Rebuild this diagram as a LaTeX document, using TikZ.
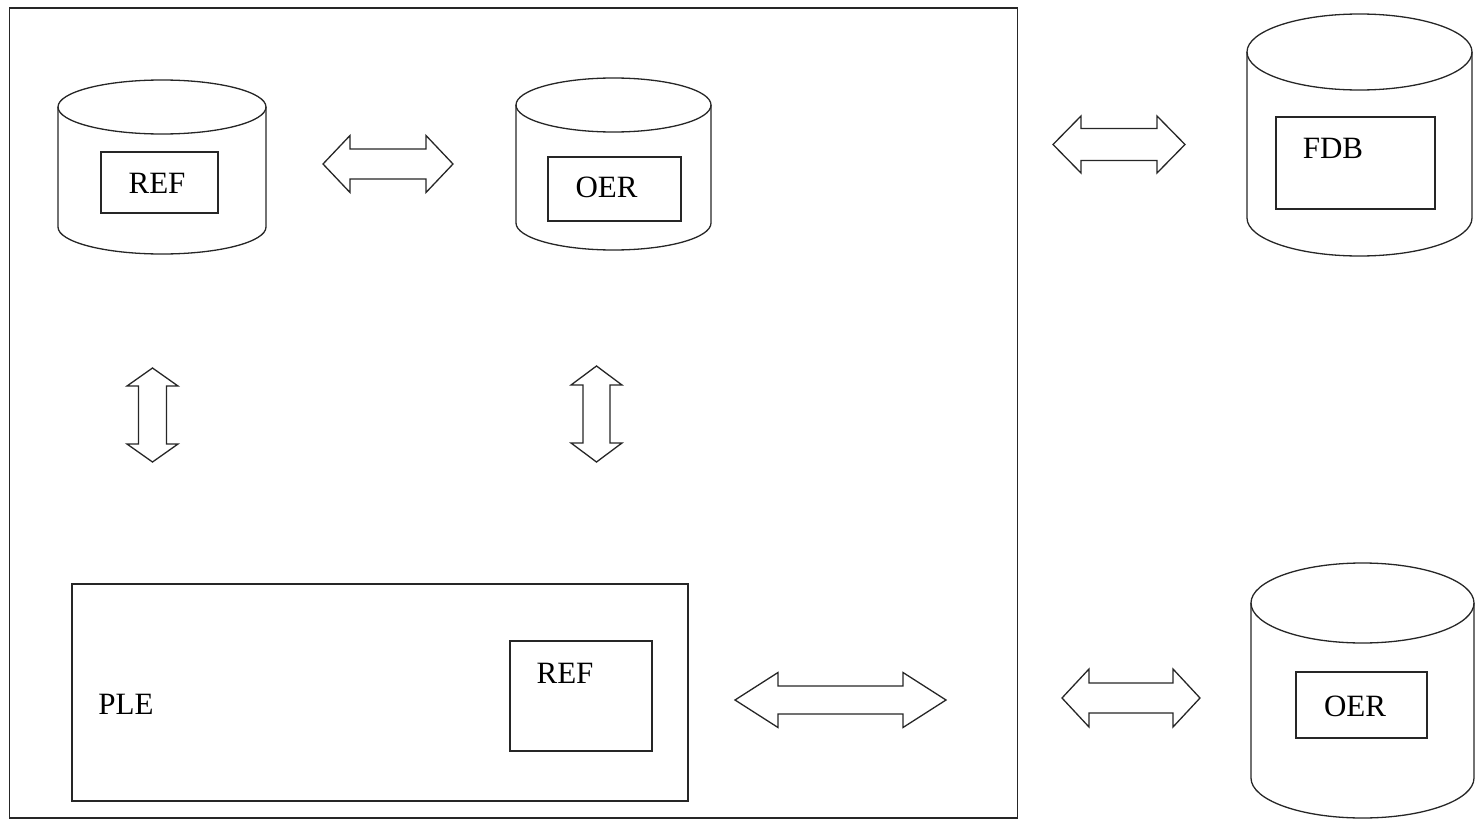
\documentclass[tikz,border=0pt]{standalone}
\usepackage{fontspec}
\setmainfont{Liberation Serif}
\begin{document}
\begin{tikzpicture}[x=1pt,y=1pt,
  ln/.style={draw=black!85,line width=1.3pt},
  box/.style={ln,rectangle,inner sep=0pt},
  lbl/.style={font=\fontsize{31}{36}\selectfont,inner sep=0pt,text=black},
  hollow/.style={ln,fill=white,line join=miter}]
\newcommand{\mycyl}[5]{%
  \pgfmathsetmacro\mycx{(#1+#2)/2}\pgfmathsetmacro\myrx{(#2-#1)/2}%
  \draw[ln] (#1,-#3) -- (#1,-#4) arc[start angle=180,end angle=360,x radius=\myrx,y radius=#5] -- (#2,-#3);
  \draw[ln] (\mycx,-#3) ellipse[x radius=\myrx,y radius=#5];}
% horizontal double arrow: x1 x2 cy headlen headhalf shafthalf
\newcommand{\myharrow}[6]{%
  \draw[hollow] (#1,-#3) -- (#1+#4,-#3+#5) -- (#1+#4,-#3+#6) -- (#2-#4,-#3+#6) -- (#2-#4,-#3+#5)
   -- (#2,-#3) -- (#2-#4,-#3-#5) -- (#2-#4,-#3-#6) -- (#1+#4,-#3-#6) -- (#1+#4,-#3-#5) -- cycle;}
% vertical double arrow: cx y1 y2 headlen headhalf shafthalf
\newcommand{\myvarrow}[6]{%
  \draw[hollow] (#1,-#2) -- (#1+#5,-#2-#4) -- (#1+#6,-#2-#4) -- (#1+#6,-#3+#4) -- (#1+#5,-#3+#4)
   -- (#1,-#3) -- (#1-#5,-#3+#4) -- (#1-#6,-#3+#4) -- (#1-#6,-#2-#4) -- (#1-#5,-#2-#4) -- cycle;}
\useasboundingbox (0,0) rectangle (1476,-819);
% outer frame
\node[box,minimum width=1008pt,minimum height=810pt] (frame) at (513.5,-413) {};
% cylinders
\mycyl{58}{266}{107}{227}{27}
\mycyl{516}{711}{105}{223}{27}
\mycyl{1247}{1472}{52}{218}{38}
\mycyl{1251}{1474}{603}{778}{40}
% inner boxes
\node[box,minimum width=117pt,minimum height=61pt] (refbox) at (159.5,-182.5) {};
\node[lbl] (reft) at (157,-183) {REF};
\node[box,minimum width=133pt,minimum height=64pt] (oerbox) at (614.5,-189) {};
\node[lbl] (oert) at (606.5,-187) {OER};
\node[box,minimum width=159pt,minimum height=92pt] (fdbbox) at (1355.5,-163) {};
\node[lbl] (fdbt) at (1333,-148) {FDB};
\node[box,minimum width=131pt,minimum height=66pt] (oer2box) at (1361.5,-705) {};
\node[lbl] (oer2t) at (1355,-706) {OER};
\node[box,minimum width=616pt,minimum height=217pt] (ple) at (380,-692.5) {};
\node[lbl] (plet) at (126,-704) {PLE};
\node[box,minimum width=142pt,minimum height=110pt] (ref2box) at (581,-696) {};
\node[lbl] (ref2t) at (565,-673) {REF};
% arrows
\myharrow{323}{453}{164}{27}{28.5}{15}
\myharrow{1053}{1185}{144.5}{28}{28.5}{16}
\myharrow{735}{946}{700}{43}{27.5}{14}
\myharrow{1062}{1200}{698}{27}{29}{15}
\myvarrow{152.5}{368}{462}{18}{25.5}{14}
\myvarrow{596.5}{366}{462}{19}{25.5}{13.5}
\end{tikzpicture}
\end{document}
